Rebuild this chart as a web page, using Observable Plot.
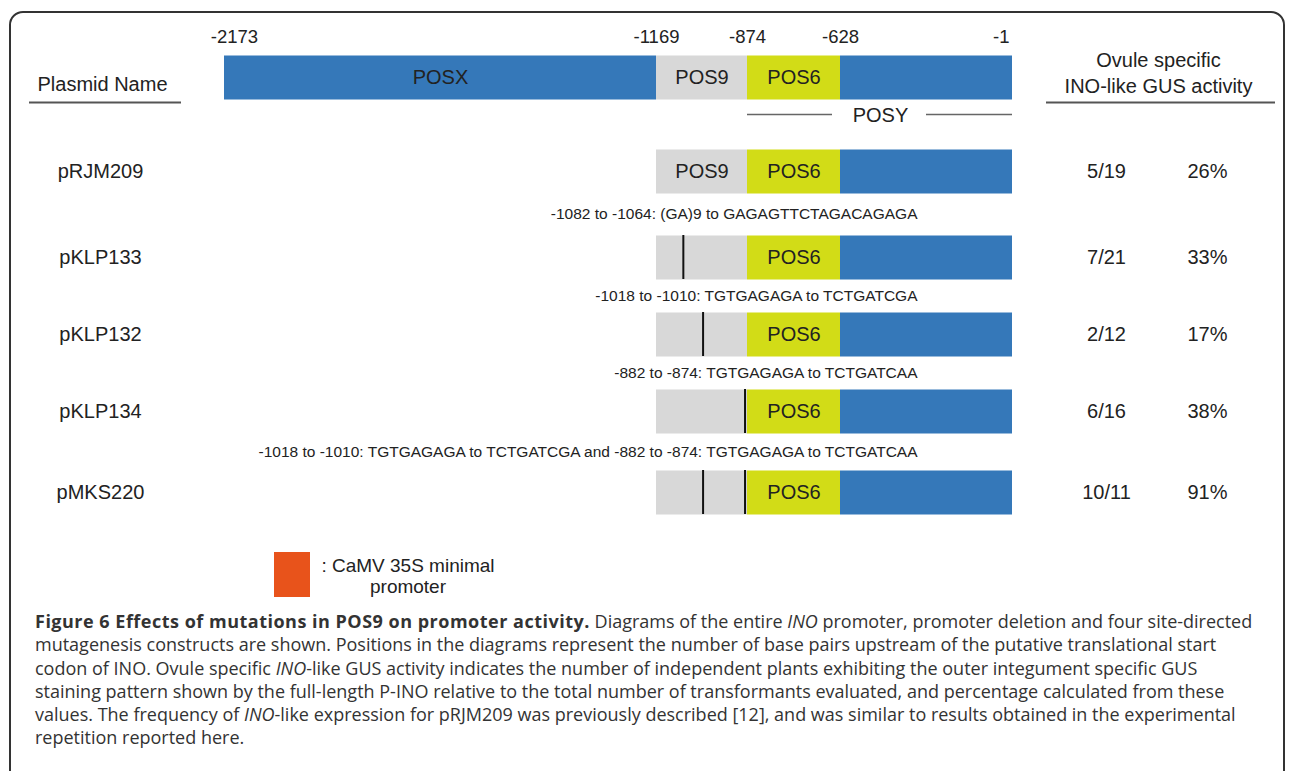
<!DOCTYPE html>
<html>
<head>
<meta charset="utf-8">
<script src="https://cdn.jsdelivr.net/npm/d3@7"></script>
<script src="https://cdn.jsdelivr.net/npm/@observablehq/plot@0.6"></script>
<style>
  html, body { margin: 0; padding: 0; background: #fff; overflow: hidden; }
  #wrap { position: relative; width: 1290px; height: 771px; overflow: hidden; }
  #frame { position: absolute; left: 9px; top: 11px; width: 1276px; height: 900px;
           border: 2px solid #333; border-radius: 14px; box-sizing: border-box; }
  #chart { position: absolute; left: 0; top: 0; }
  #legend { position: absolute; left: 274px; top: 552px; font-family: "Liberation Sans", Arial, sans-serif;
            font-size: 19px; color: #222; }
  #legend .sw { position: absolute; left: 0; top: 0; width: 36px; height: 45px; background: #e8531b; }
  #legend .tx { position: absolute; left: 44px; top: 3px; width: 180px; text-align: center; line-height: 21px; white-space: nowrap; }
  #caption { position: absolute; left: 35px; top: 610px; font-family: "Open Sans", "Noto Sans", sans-serif;
             font-size: 18px; line-height: 23.3px; color: #333; white-space: nowrap; }
  #caption b { letter-spacing: 0.5px; }
</style>
</head>
<body>
<div id="wrap">
  <div id="frame"></div>
  <div id="chart"></div>
  <div id="legend"><div class="sw"></div><div class="tx">: CaMV 35S minimal<br>promoter</div></div>
  <div id="caption"></div>
</div>
<script>
// ---- data ----
const boundaries = [-2173, -1169, -874, -628, -1];
const regions = ["POSX", "POS9", "POS6", "POSY"];
const regionColors = ["#3578b9", "#d8d8d8", "#d2dc17", "#3578b9"];
const plasmids = ["pRJM209", "pKLP133", "pKLP132", "pKLP134", "pMKS220"];
const gusPositive = [5, 7, 2, 6, 10];
const gusTotal = [19, 21, 12, 16, 11];
const gusPercent = [26, 33, 17, 38, 91];
const mutationStarts = [[], [-1082], [-1018], [-882], [-1018, -882]];
const mutationEnds = [[], [-1064], [-1010], [-874], [-1010, -874]];
const annotations = [
  "",
  "-1082 to -1064: (GA)9 to GAGAGTTCTAGACAGAGA",
  "-1018 to -1010: TGTGAGAGA to TCTGATCGA",
  "-882 to -874: TGTGAGAGA to TCTGATCAA",
  "-1018 to -1010: TGTGAGAGA to TCTGATCGA and -882 to -874: TGTGAGAGA to TCTGATCAA"
];

// ---- derived tables ----
const segments = [];
for (let i = 0; i < 4; i++) {
  segments.push({row: 0, start: boundaries[i], end: boundaries[i + 1], region: regions[i],
                 label: i < 3 ? regions[i] : ""});
}
plasmids.forEach((p, k) => {
  for (let i = 1; i < 4; i++) {
    segments.push({row: k + 1, start: boundaries[i], end: boundaries[i + 1], region: regions[i],
                   label: i === 2 ? "POS6" : (i === 1 && k === 0 ? "POS9" : "")});
  }
});
const mutations = [];
plasmids.forEach((p, k) => {
  mutationStarts[k].forEach((s, j) => mutations.push({row: k + 1, from: s, to: mutationEnds[k][j]}));
});
const rows = plasmids.map((p, k) => ({
  row: k + 1, name: p,
  frac: `${gusPositive[k]}/${gusTotal[k]}`,
  pct: `${gusPercent[k]}%`,
  note: annotations[k]
}));
const notes = rows.filter(d => d.note);

const FONT = "Liberation Sans, Arial, Helvetica, sans-serif";
const ink = "#222";

const chart = Plot.plot({
  width: 1290,
  height: 545,
  marginLeft: 0, marginRight: 0, marginTop: 0, marginBottom: 0,
  style: {fontFamily: FONT, background: "transparent", color: ink},
  x: {type: "linear", domain: boundaries, range: [224, 656, 747, 840, 1012], axis: null},
  y: {type: "linear", domain: [0, 1, 2, 3, 4, 5], range: [77, 171, 257, 334, 411, 492], axis: null},
  color: {type: "ordinal", domain: regions, range: regionColors},
  marks: [
    Plot.ruleY(segments, {y: "row", x1: "start", x2: "end", stroke: "region", strokeWidth: 44}),
    Plot.text(segments.filter(d => d.label), {
      x: d => (d.start + d.end) / 2, y: "row", text: "label",
      fontSize: 20, fill: ink
    }),
    Plot.ruleX(mutations, {x: "from", y1: "row", y2: "row", insetTop: -22, insetBottom: -22,
                           stroke: "#111", strokeWidth: 2}),
    Plot.text(boundaries.slice(1, 4), {x: d => d, y: [0, 0, 0], dy: -40, text: d => String(d), fontSize: 18.5, fill: ink}),
    Plot.text(boundaries.slice(0, 1), {x: d => d, y: [0], dy: -40, dx: 10, text: d => String(d), fontSize: 18.5, fill: ink}),
    Plot.text(boundaries.slice(4), {x: d => d, y: [0], dy: -40, dx: -3, textAnchor: "end", text: d => String(d), fontSize: 18.5, fill: ink}),
    Plot.ruleY([0], {x1: boundaries[2], x2: boundaries[4], insetRight: 180, dy: 37, stroke: "#666", strokeWidth: 1.5}),
    Plot.ruleY([0], {x1: boundaries[2], x2: boundaries[4], insetLeft: 179, dy: 37, stroke: "#666", strokeWidth: 1.5}),
    Plot.text(["POSY"], {x: boundaries[3], y: [0], dx: 40, dy: 38, text: d => d, fontSize: 20, fill: ink}),
    Plot.text(["Plasmid Name"], {frameAnchor: "left", textAnchor: "middle", y: [0], dx: 102, dy: 7, text: d => d, fontSize: 20, fill: ink}),
    Plot.ruleY([0], {insetLeft: 29, insetRight: 1290 - 181, dy: 25, stroke: "#555", strokeWidth: 2}),
    Plot.text(["Ovule specific\nINO-like GUS activity"], {frameAnchor: "left", textAnchor: "middle", y: [0], dx: 1158, dy: -6,
      text: d => d, fontSize: 20, lineHeight: 1.3, fill: ink}),
    Plot.ruleY([0], {insetLeft: 1046, insetRight: 1290 - 1275, dy: 25, stroke: "#555", strokeWidth: 2}),
    Plot.text(rows, {frameAnchor: "left", textAnchor: "middle", y: "row", dx: 100, text: "name", fontSize: 20, fill: ink}),
    Plot.text(rows, {frameAnchor: "left", textAnchor: "middle", y: "row", dx: 1106, text: "frac", fontSize: 20, fill: ink}),
    Plot.text(rows, {frameAnchor: "left", textAnchor: "middle", y: "row", dx: 1207, text: "pct", fontSize: 20, fill: ink}),
    Plot.text(notes, {x: boundaries[4], y: d => d.row - 0.5, dx: -95, textAnchor: "end",
      text: "note", fontSize: 15.5, fill: ink})
  ]
});
document.getElementById("chart").appendChild(chart);

document.getElementById("caption").innerHTML = [
  "<b>Figure 6 Effects of mutations in POS9 on promoter activity.</b> Diagrams of the entire <i>INO</i> promoter, promoter deletion and four site-directed",
  "mutagenesis constructs are shown. Positions in the diagrams represent the number of base pairs upstream of the putative translational start",
  "codon of INO. Ovule specific <i>INO</i>-like GUS activity indicates the number of independent plants exhibiting the outer integument specific GUS",
  "staining pattern shown by the full-length P-INO relative to the total number of transformants evaluated, and percentage calculated from these",
  "values. The frequency of <i>INO</i>-like expression for pRJM209 was previously described [12], and was similar to results obtained in the experimental",
  "repetition reported here."
].join("<br>");
</script>
</body>
</html>
